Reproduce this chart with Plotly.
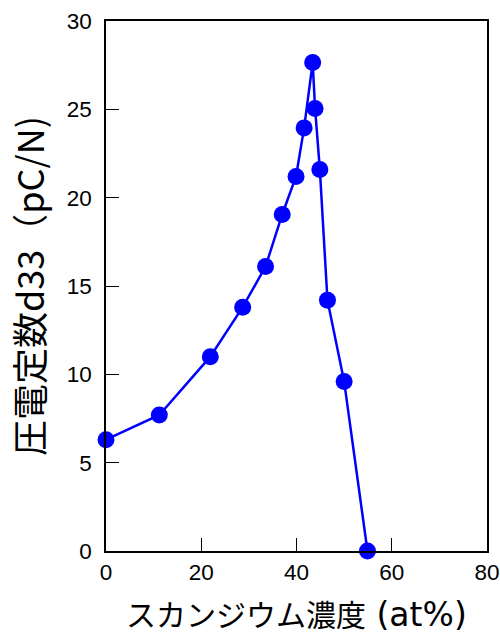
import plotly.graph_objects as go

# Scandium concentration (at%) and piezoelectric constant d33 (pC/N)
sc_conc = [0.0, 11.2, 21.9, 28.7, 33.5, 37.0, 39.9, 41.6, 43.4, 43.9, 44.9, 46.5, 50.0, 54.9]
d33 = [6.3, 7.7, 11.0, 13.8, 16.1, 19.05, 21.2, 23.95, 27.65, 25.05, 21.6, 14.2, 9.6, 0.0]

x_ticks = [0, 20, 40, 60, 80]
y_ticks = [0, 5, 10, 15, 20, 25, 30]

x_title = "スカンジウム濃度<span style='font-family:DejaVu Sans;font-size:33px'>\u00a0(at%)</span>"
y_title = "圧電定数d33（pC/N)"

fig = go.Figure(
    go.Scatter(
        x=sc_conc,
        y=d33,
        mode="lines+markers",
        line=dict(color="#0000FF", width=2.5),
        marker=dict(color="#0000FF", size=17),
        cliponaxis=False,
    )
)

tick_font = dict(family="Liberation Sans, Arial, sans-serif", size=22.5, color="black")
cjk = "Noto Sans CJK JP, sans-serif"

axis_common = dict(
    ticks="inside",
    ticklen=13,
    tickwidth=1.2,
    tickcolor="black",
    showline=True,
    linecolor="black",
    linewidth=1.5,
    mirror=True,
    showgrid=False,
    zeroline=False,
    tickfont=tick_font,
    automargin=False,
)

fig.update_layout(
    width=500,
    height=635,
    margin=dict(l=106, r=13, t=21, b=84),
    paper_bgcolor="white",
    plot_bgcolor="white",
    showlegend=False,
    xaxis=dict(range=[0, 80], tickvals=x_ticks, **axis_common),
    yaxis=dict(range=[0, 30], tickvals=y_ticks, ticklabelstandoff=8, **axis_common),
    annotations=[
        dict(
            text=x_title,
            xref="paper", yref="paper", x=0.5, y=0,
            xanchor="center", yanchor="middle", yshift=-62,
            showarrow=False,
            font=dict(family=cjk, size=30, color="black"),
        ),
        dict(
            text=y_title,
            xref="paper", yref="paper", x=0, y=0.5,
            xanchor="center", yanchor="middle", xshift=-78,
            textangle=-90,
            showarrow=False,
            font=dict(family=cjk, size=36, color="black"),
        ),
    ],
)

fig.write_html("out.html")
